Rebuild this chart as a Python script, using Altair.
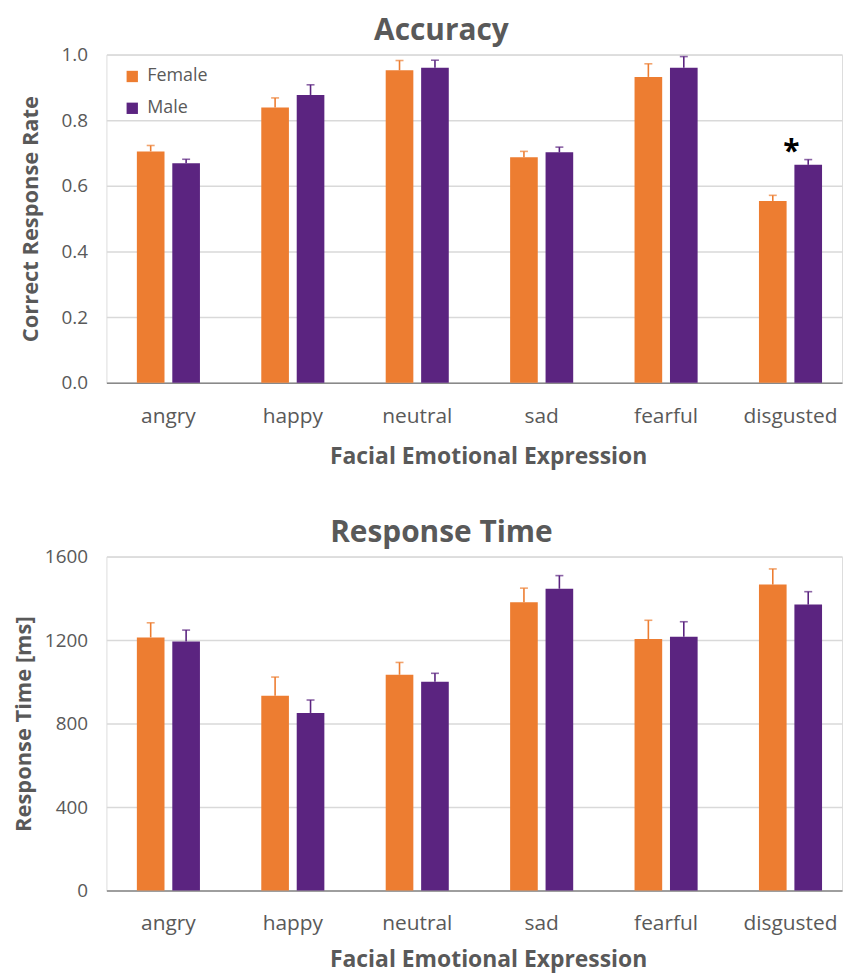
import altair as alt
import pandas as pd

# ---------------- data ----------------
emotions = ["angry", "happy", "neutral", "sad", "fearful", "disgusted"]
genders = ["Female", "Male"]

acc_female = [0.705, 0.839, 0.952, 0.687, 0.932, 0.554]
acc_male = [0.669, 0.877, 0.960, 0.702, 0.960, 0.664]
acc_female_err = [0.018, 0.029, 0.030, 0.018, 0.040, 0.017]
acc_male_err = [0.012, 0.031, 0.023, 0.016, 0.034, 0.016]

rt_female = [1213, 934, 1034, 1381, 1205, 1466]
rt_male = [1193, 851, 1000, 1446, 1216, 1370]
rt_female_err = [70, 89, 59, 68, 90, 75]
rt_male_err = [55, 62, 41, 63, 72, 62]

acc_ticks = [0.0, 0.2, 0.4, 0.6, 0.8, 1.0]
rt_ticks = [0, 400, 800, 1200, 1600]

sig_emotion = ["disgusted"]
sig_label = ["*"]
sig_value = [0.72]

ORANGE = "#ED7D31"
PURPLE = "#5B2480"
TEXT = "#595959"
FONT = "Open Sans"


def build_df(fem, male, fem_err, male_err):
    rows = []
    for i, e in enumerate(emotions):
        rows.append({"emotion": e, "gender": "Female", "value": fem[i],
                     "upper": fem[i] + fem_err[i]})
        rows.append({"emotion": e, "gender": "Male", "value": male[i],
                     "upper": male[i] + male_err[i]})
    return pd.DataFrame(rows)


acc_df = build_df(acc_female, acc_male, acc_female_err, acc_male_err)
rt_df = build_df(rt_female, rt_male, rt_female_err, rt_male_err)
sig_df = pd.DataFrame({"emotion": sig_emotion, "label": sig_label, "value": sig_value})

W = 740
x_scale = alt.Scale(paddingInner=0.493, paddingOuter=0.2026, align=0.604)
xoff_scale = alt.Scale(paddingInner=0.22, paddingOuter=0)
color_scale = alt.Scale(domain=genders, range=[ORANGE, PURPLE])


def x_enc(label_pad, title_pad):
    return alt.X(
        "emotion:N", sort=emotions, scale=x_scale,
        axis=alt.Axis(
            title="Facial Emotional Expression", labelAngle=0, ticks=False,
            domain=True, domainColor="#898989", domainWidth=1.5,
            labelFontSize=21, labelColor=TEXT, labelFont=FONT,
            labelPadding=label_pad,
            titleFontSize=23, titleFontWeight="bold", titleColor=TEXT,
            titleFont=FONT, titlePadding=title_pad, titleX=384,
        ),
    )


def panel(df, title, y_title, ticks, fmt, domain, height, legend, y_title_pad,
          x_label_pad, x_title_pad, sig=None):
    y_axis = alt.Axis(
        values=ticks, format=fmt, title=y_title, grid=True, gridColor="#D9D9D9",
        gridWidth=1.5, domain=False, ticks=False, labelFontSize=19,
        labelColor=TEXT, labelFont=FONT, labelPadding=19, titleFontSize=22,
        titleFontWeight="bold", titleColor=TEXT, titleFont=FONT,
        titlePadding=y_title_pad,
    )
    y_scale = alt.Scale(domain=domain, nice=False)
    if legend:
        leg = alt.Legend(
            title=None, orient="none", legendX=17, legendY=13, symbolType="square",
            symbolSize=130, symbolStrokeWidth=0, labelFontSize=18, labelColor=TEXT,
            labelFont=FONT, rowPadding=14, symbolOffset=0, labelOffset=6,
        )
    else:
        leg = None
    color = alt.Color("gender:N", scale=color_scale, legend=leg)
    xoff = alt.XOffset("gender:N", sort=genders, scale=xoff_scale)
    xe = x_enc(x_label_pad, x_title_pad)

    bars = alt.Chart(df).mark_bar().encode(
        x=xe, xOffset=xoff,
        y=alt.Y("value:Q", scale=y_scale, axis=y_axis),
        color=color,
    )
    rules = alt.Chart(df).mark_rule(strokeWidth=1.6).encode(
        x=xe, xOffset=xoff,
        y=alt.Y("value:Q", scale=y_scale), y2="upper:Q",
        color=alt.Color("gender:N", scale=color_scale, legend=None),
    )
    caps = alt.Chart(df).mark_tick(size=8, thickness=1.6).encode(
        x=xe, xOffset=xoff,
        y=alt.Y("upper:Q", scale=y_scale),
        color=alt.Color("gender:N", scale=color_scale, legend=None),
    )
    layers = [bars, rules, caps]
    if sig is not None:
        star = alt.Chart(sig).mark_text(
            fontSize=30, fontWeight="bold", color="#000000", dx=1, dy=6,
            font=FONT, baseline="middle",
        ).encode(
            x=xe, y=alt.Y("value:Q", scale=y_scale), text="label:N",
        )
        layers.append(star)
    return alt.layer(*layers).properties(
        width=W, height=height,
        title=alt.TitleParams(
            title, fontSize=30, fontWeight="bold", color=TEXT, font=FONT,
            anchor="middle", dx=-33, offset=0,
        ),
    )


top = panel(acc_df, "Accuracy", "Correct Response Rate", acc_ticks, ".1f",
            [0, 1], 330, True, 19, 23, 19, sig=sig_df)
bottom = panel(rt_df, "Response Time", "Response Time [ms]", rt_ticks, "d",
               [0, 1600], 336, False, 9, 22, 15)

chart = alt.vconcat(top, bottom, spacing=48).resolve_scale(
    color="independent"
).properties(
    padding={"left": 4, "top": 4, "right": 0, "bottom": 0},
).configure_view(
    stroke="#898989", strokeWidth=1.5,
).configure(background="white")

chart.save("out.html", embed_options={"renderer": "svg", "actions": False})
